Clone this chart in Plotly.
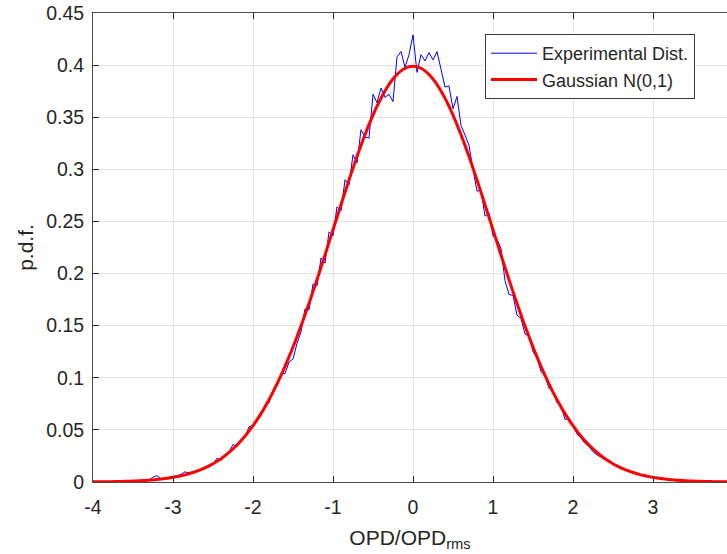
import numpy as np
import plotly.graph_objects as go

# Sample grid step (OPD/OPD_rms units)
STEP = 0.05

# Measured (normalised) OPD histogram, x = -4.00 ... 4.00 in steps of 0.05
exp_pdf = [
    0.0000, 0.0002, 0.0002, 0.0003, 0.0003, 0.0004, 0.0005, 0.0004, 0.0008, 0.0006,
    0.0010, 0.0009, 0.0014, 0.0012, 0.0021, 0.0045, 0.0062, 0.0030, 0.0038, 0.0041,
    0.0048, 0.0060, 0.0072, 0.0098, 0.0085, 0.0096, 0.0110, 0.0125, 0.0141, 0.0160,
    0.0172, 0.0228, 0.0205, 0.0258, 0.0290, 0.0360, 0.0340, 0.0408, 0.0430, 0.0530,
    0.0538, 0.0610, 0.0640, 0.0740, 0.0760, 0.0880, 0.0925, 0.1040, 0.1040, 0.1150,
    0.1180, 0.1330, 0.1440, 0.1660, 0.1650, 0.1900, 0.1880, 0.2150, 0.2100, 0.2400,
    0.2360, 0.2640, 0.2600, 0.2900, 0.2850, 0.3140, 0.3060, 0.3380, 0.3310, 0.3300,
    0.3720, 0.3640, 0.3780, 0.3690, 0.3720, 0.3650, 0.4080, 0.4130, 0.3980, 0.4100,
    0.4290,
    0.3930, 0.4100, 0.4040, 0.4120, 0.4050, 0.4130, 0.3960, 0.3790, 0.3800, 0.3580,
    0.3700, 0.3420, 0.3330, 0.3230, 0.3000, 0.2790, 0.2800, 0.2550, 0.2580, 0.2360,
    0.2330, 0.2240, 0.1930, 0.1800, 0.1790, 0.1600, 0.1570, 0.1420, 0.1400, 0.1250,
    0.1190, 0.1060, 0.1020, 0.0900, 0.0870, 0.0760, 0.0730, 0.0600, 0.0610, 0.0530,
    0.0460, 0.0420, 0.0370, 0.0340, 0.0290, 0.0260, 0.0240, 0.0215, 0.0210, 0.0170,
    0.0150, 0.0128, 0.0122, 0.0098, 0.0094, 0.0073, 0.0070, 0.0052, 0.0056, 0.0041,
    0.0047, 0.0030, 0.0034, 0.0019, 0.0024, 0.0013, 0.0018, 0.0009, 0.0013, 0.0006,
    0.0008, 0.0004, 0.0006, 0.0002, 0.0004, 0.0001, 0.0003, 0.0001, 0.0002, 0.0000,
]

# Standard normal density tabulated for x = 0.00 ... 4.00 (step 0.05)
gauss_half = [
    0.39894, 0.39844, 0.39695, 0.39448, 0.39104, 0.38667, 0.38139, 0.37524, 0.36827, 0.36053,
    0.35207, 0.34294, 0.33322, 0.32297, 0.31225, 0.30114, 0.28969, 0.27798, 0.26609, 0.25406,
    0.24197, 0.22988, 0.21785, 0.20594, 0.19419, 0.18265, 0.17137, 0.16038, 0.14973, 0.13943,
    0.12952, 0.12001, 0.11092, 0.10226, 0.09405, 0.08628, 0.07895, 0.07206, 0.06562, 0.05959,
    0.05399, 0.04880, 0.04398, 0.03955, 0.03547, 0.03174, 0.02833, 0.02522, 0.02239, 0.01984,
    0.01753, 0.01545, 0.01358, 0.01191, 0.01042, 0.00909, 0.00792, 0.00687, 0.00595, 0.00514,
    0.00443, 0.00381, 0.00327, 0.00279, 0.00238, 0.00203, 0.00172, 0.00146, 0.00123, 0.00104,
    0.00087, 0.00073, 0.00061, 0.00051, 0.00042, 0.00035, 0.00029, 0.00024, 0.00020, 0.00016,
    0.00013,
]
gauss_pdf = gauss_half[:0:-1] + gauss_half  # symmetric about 0

x_tick_vals = [-4, -3, -2, -1, 0, 1, 2, 3, 4]
x_tick_text = ["-4", "-3", "-2", "-1", "0", "1", "2", "3", "4"]

assert len(exp_pdf) == 161 and len(gauss_pdf) == 161
n_half = (len(exp_pdf) - 1) // 2
x_grid = np.round((np.arange(len(exp_pdf)) - n_half) * STEP, 2)

# Figure geometry (px)
W, H = 727, 554
M_L, M_R, M_T, M_B = 93, 0, 13, 72
PX_PER_UNIT = 80.0
x_min = -4.0
x_max = x_min + (W - M_L - M_R) / PX_PER_UNIT  # right edge of the axes box lies past the page

FONT = "Liberation Sans, Arial, Helvetica, sans-serif"
TXT = "#262626"
AX_COLOR = "#4a4a4a"
GRID_COLOR = "#e3e3e3"
TICK_SIZE = 19.5

fig = go.Figure()
fig.add_trace(go.Scatter(
    x=x_grid, y=exp_pdf, mode="lines", name="Experimental Dist.",
    line=dict(color="#0000ff", width=1),
))
fig.add_trace(go.Scatter(
    x=x_grid, y=gauss_pdf, mode="lines", name="Gaussian N(0,1)",
    line=dict(color="#ff0000", width=3, shape="spline", smoothing=0.6),
))

fig.update_layout(
    width=W, height=H,
    margin=dict(l=M_L, r=M_R, t=M_T, b=M_B, pad=0),
    paper_bgcolor="white", plot_bgcolor="white",
    font=dict(family=FONT, size=18, color=TXT),
    showlegend=True,
    legend=dict(
        x=(695 - M_L) / (W - M_L - M_R), xanchor="right",
        y=(H - M_B - 34) / (H - M_T - M_B), yanchor="top",
        bgcolor="white", bordercolor="#3a3a3a", borderwidth=1,
        font=dict(family=FONT, size=18, color=TXT),
        itemwidth=46,
        tracegroupgap=0,
    ),
    xaxis=dict(
        range=[x_min, x_max],
        tickvals=x_tick_vals[:-1], ticktext=x_tick_text[:-1],
        ticks="inside", ticklen=6, tickcolor=TXT, tickwidth=1,
        ticklabelstandoff=8,
        showline=True, linecolor=AX_COLOR, linewidth=1, mirror="ticks",
        showgrid=True, gridcolor=GRID_COLOR, gridwidth=1,
        zeroline=False,
        tickfont=dict(size=TICK_SIZE, color=TXT),
        title=dict(text="OPD/OPD<sub>rms</sub>", font=dict(size=21, color=TXT), standoff=12),
    ),
    yaxis=dict(
        range=[0, 0.45], dtick=0.05, tick0=0,
        ticks="inside", ticklen=6, tickcolor=TXT, tickwidth=1,
        ticklabelstandoff=4,
        showline=True, linecolor=AX_COLOR, linewidth=1, mirror=False,
        showgrid=True, gridcolor=GRID_COLOR, gridwidth=1,
        zeroline=False,
        tickfont=dict(size=TICK_SIZE, color=TXT),
        title=dict(text="p.d.f.", font=dict(size=21, color=TXT), standoff=6),
    ),
)

# The "4" tick label sits at the right end of the axis, just past the page edge
fig.add_annotation(
    x=(x_tick_vals[-1] - x_min) / (x_max - x_min), xref="paper",
    y=0, yref="paper", yanchor="top", xanchor="center",
    text=x_tick_text[-1], showarrow=False, yshift=-16,
    font=dict(family=FONT, size=TICK_SIZE, color=TXT),
)

fig.write_html("out.html")
